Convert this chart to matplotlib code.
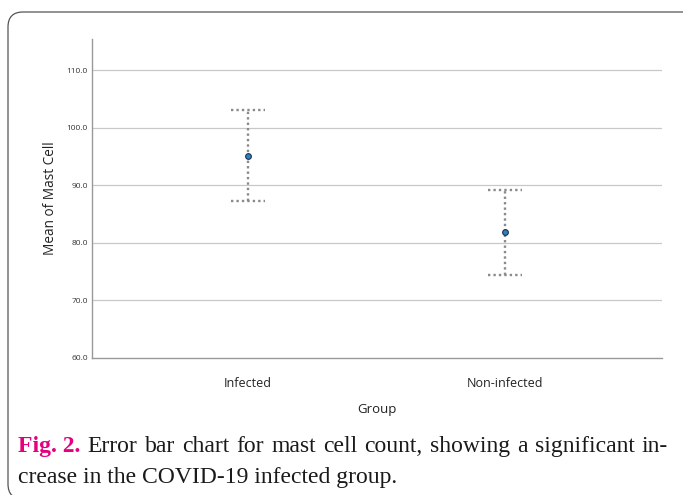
import matplotlib.pyplot as plt
import numpy as np
from matplotlib.patches import FancyBboxPatch

groups = ["Infected", "Non-infected"]
means = [95.0, 81.9]
upper = [103.0, 89.2]
lower = [87.3, 74.4]
y_ticks = [60.0, 70.0, 80.0, 90.0, 100.0, 110.0]

caption_head = "Fig. 2."
caption_line1 = "Error bar chart for mast cell count, showing a significant in-"
caption_line2 = "crease in the COVID-19 infected group."

fig = plt.figure(figsize=(6.83, 4.95), dpi=100)

# outer rounded frame (runs past the right and bottom edges)
frame = FancyBboxPatch((8 / 683, -4 / 495), 700 / 683, (495 - 12 + 4) / 495,
                       boxstyle="round,pad=0,rounding_size=0.022",
                       transform=fig.transFigure, fill=False,
                       edgecolor="#555555", linewidth=0.9, mutation_aspect=683 / 495)
fig.add_artist(frame)

ax = fig.add_axes([92 / 683, (495 - 358) / 495, 570 / 683, (358 - 39) / 495])
x = np.arange(len(groups))

grid_c = "#c8c8c8"
for t in y_ticks[1:]:
    ax.axhline(t, color=grid_c, linewidth=0.9, zorder=1)

dot = (0, (1, 1.3))
err_c = "#8a8a8a"
ax.vlines(x, lower, upper, colors=err_c, linestyles=[dot], linewidth=1.7, zorder=2)
ax.hlines(upper, x - 0.066, x + 0.066, colors=err_c, linestyles=[dot], linewidth=1.7, zorder=2)
ax.hlines(lower, x - 0.066, x + 0.066, colors=err_c, linestyles=[dot], linewidth=1.7, zorder=2)
ax.scatter(x, means, s=17, color="#2f7fc1", edgecolor="#1c3550", linewidth=0.8, zorder=3)

ax.set_xlim(-0.607, 1.61)
ax.set_ylim(60, 115.4)
ax.set_yticks(y_ticks)
ax.set_yticklabels([f"{t:.1f}" for t in y_ticks])
ax.set_xticks(x)
ax.set_xticklabels(groups)
ax.tick_params(axis="y", length=0, pad=3, labelsize=6, labelcolor="#333333")
ax.tick_params(axis="x", length=0, pad=14, labelsize=9, labelcolor="#222222")
for lab in ax.get_yticklabels() + ax.get_xticklabels():
    lab.set_fontfamily("Open Sans")

for side in ["top", "right"]:
    ax.spines[side].set_visible(False)
for side in ["left", "bottom"]:
    ax.spines[side].set_color("#999999")
    ax.spines[side].set_linewidth(1.0)

ax.set_ylabel("Mean of Mast Cell", fontsize=9.8, family="Open Sans", color="#222222", labelpad=6)
ax.set_xlabel("Group", fontsize=9.5, family="Open Sans", color="#222222", labelpad=9)

# caption, first line justified between x=18 and x=668
cap = fig.add_axes([0, 0, 1, 1])
cap.set_axis_off()
cap.set_xlim(0, 683)
cap.set_ylim(495, 0)
font = dict(fontsize=17, family="Liberation Serif")
renderer = fig.canvas.get_renderer()


def _width(artist):
    return artist.get_window_extent(renderer).width


words = [(caption_head, dict(fontweight="bold", color="#e5007e"))]
words += [(w, dict(color="#1a1a1a")) for w in caption_line1.split(" ")]
artists = [cap.text(0, 452, w, va="baseline", **font, **kw) for w, kw in words]
widths = [_width(a) for a in artists]
gap = (668 - 18 - sum(widths)) / (len(artists) - 1)
pos = 18
for a, w in zip(artists, widths):
    a.set_x(pos)
    pos += w + gap

cap.text(18, 483, caption_line2, va="baseline", color="#1a1a1a", **font)

fig.savefig("out.png", dpi=100)
